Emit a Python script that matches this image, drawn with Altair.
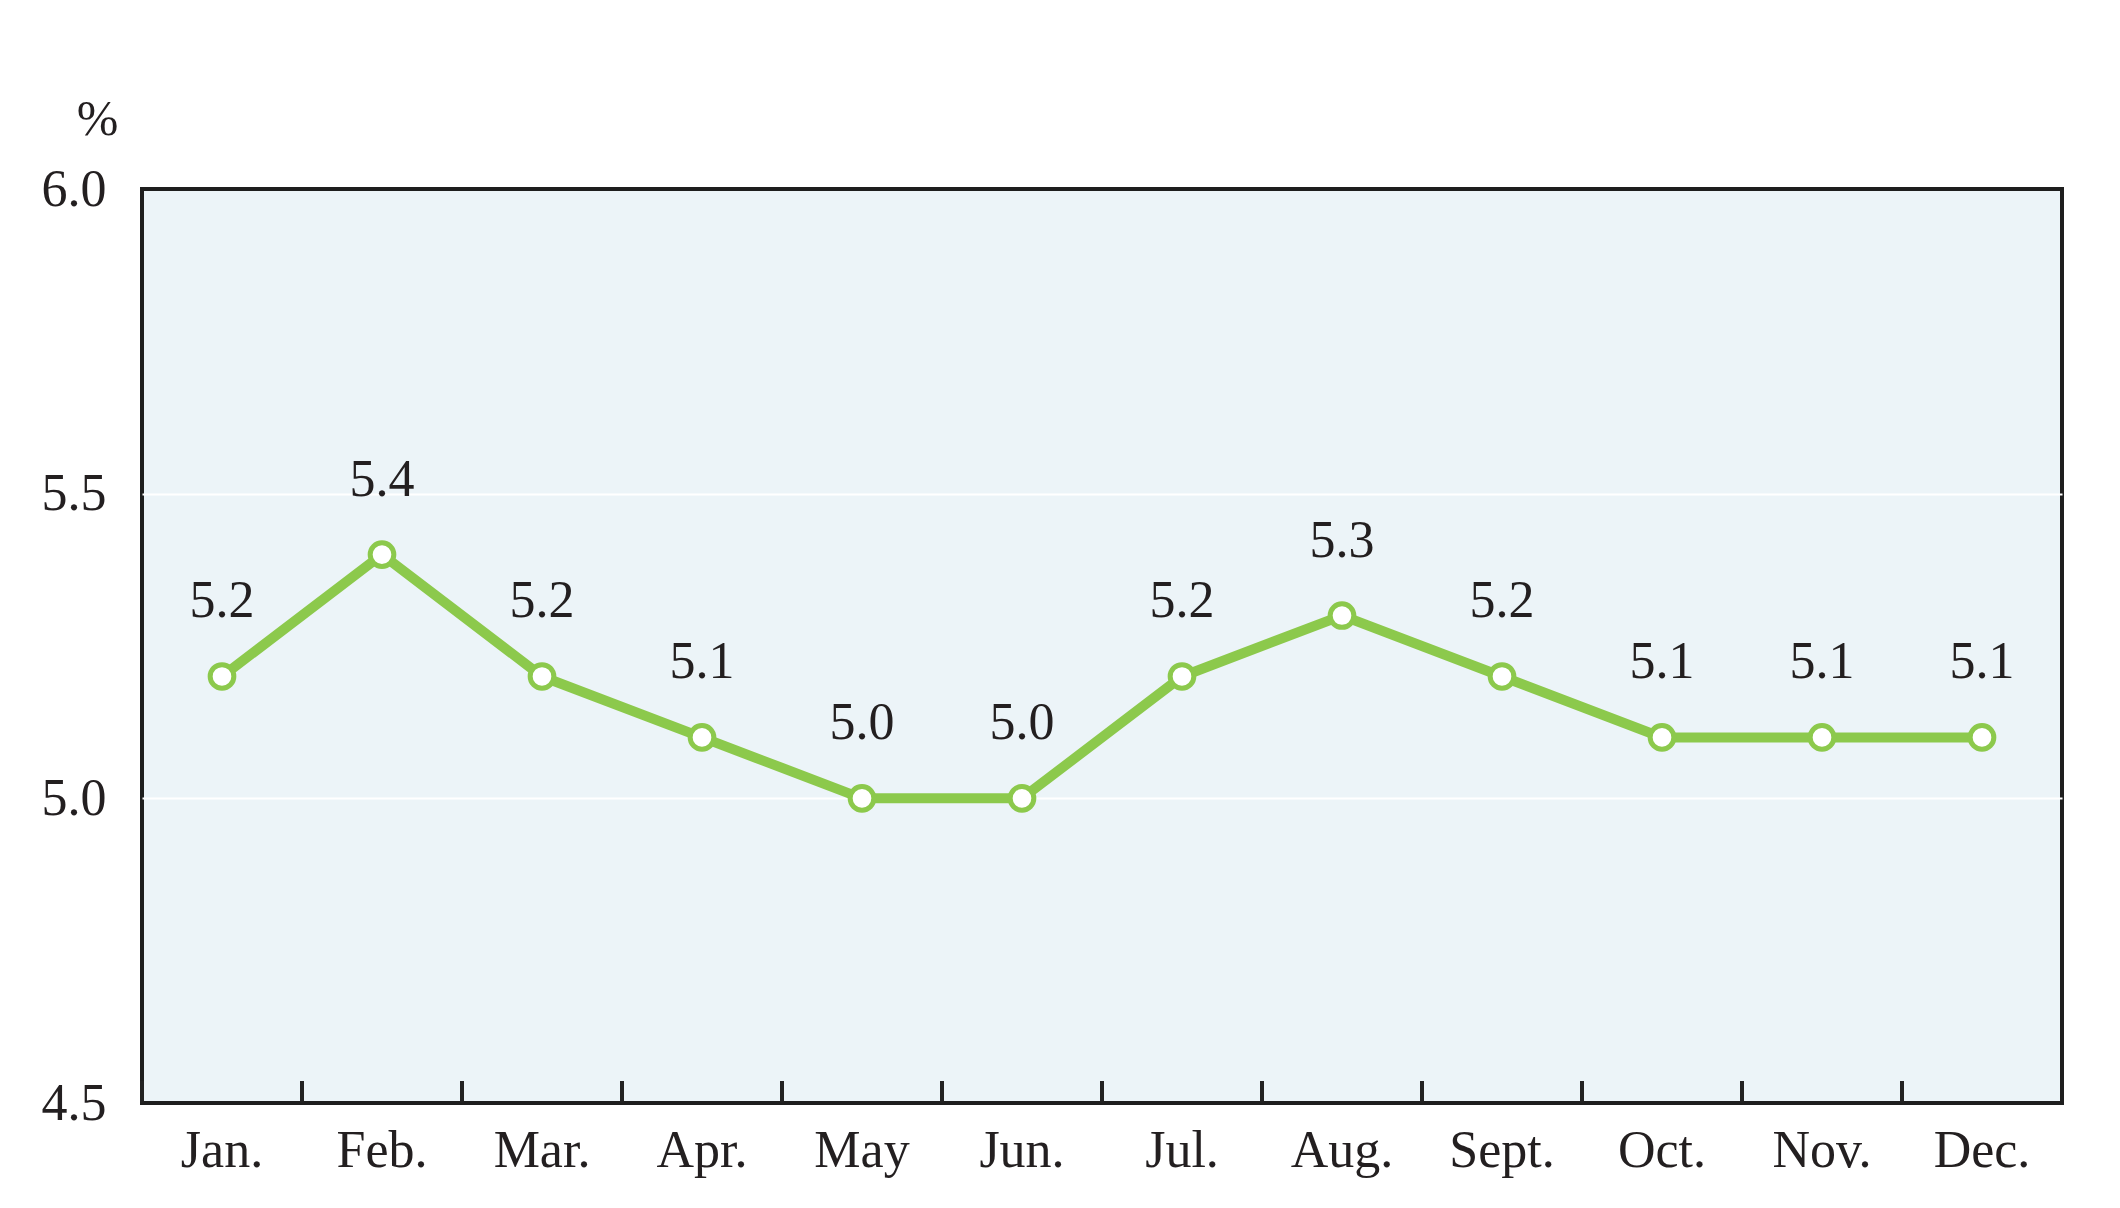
import altair as alt
import pandas as pd

months = ["Jan.", "Feb.", "Mar.", "Apr.", "May", "Jun.", "Jul.", "Aug.", "Sept.", "Oct.", "Nov.", "Dec."]
rates = [5.2, 5.4, 5.2, 5.1, 5.0, 5.0, 5.2, 5.3, 5.2, 5.1, 5.1, 5.1]
y_ticks = [4.5, 5.0, 5.5, 6.0]

df = pd.DataFrame({"month": months, "rate": rates})
df["label"] = [f"{v:.1f}" for v in rates]

FONT = "Liberation Serif"
GREEN = "#8CC94C"
TEXT = "#231F20"
W, H = 1920, 914

xscale = alt.Scale(type="band", domain=months, paddingInner=0, paddingOuter=0)
yscale = alt.Scale(domain=[4.5, 6.0], nice=False, zero=False)

x_enc = alt.X(
    "month:N", sort=months, scale=xscale,
    axis=alt.Axis(title=None, labelAngle=0, labelFont=FONT, labelFontSize=52,
                  labelColor=TEXT, tickSize=0, ticks=False, domain=False,
                  labelPadding=22, labelBaseline="top", labelAlign="center",
                  bandPosition=0.5, grid=False),
)
y_enc = alt.Y(
    "rate:Q", scale=yscale,
    axis=alt.Axis(title="%", titleAngle=0, titleFont=FONT, titleFontSize=50,
                  titleFontWeight="normal", titleColor=TEXT, titleX=-45, titleY=-70,
                  titleAlign="center", titleBaseline="middle",
                  values=y_ticks, format=".1f", labelFont=FONT, labelFontSize=52,
                  labelColor=TEXT, tickSize=0, ticks=False, domain=False,
                  labelPadding=36, grid=True, gridColor="#FFFFFF", gridWidth=2,
                  gridOpacity=alt.condition("datum.value > 4.6 && datum.value < 5.9",
                                            alt.value(1), alt.value(0))),
)

base = alt.Chart(df)

line = base.mark_line(color=GREEN, strokeWidth=10).encode(x=x_enc, y=y_enc)
points = base.mark_point(shape="circle", filled=True, fill="#FFFFFF", stroke=GREEN,
                         strokeWidth=5, size=560, opacity=1).encode(
    x=alt.X("month:N", sort=months, scale=xscale), y=alt.Y("rate:Q", scale=yscale))
labels = base.mark_text(font=FONT, fontSize=52, color=TEXT, align="center",
                        baseline="alphabetic", dy=-59).encode(
    x=alt.X("month:N", sort=months, scale=xscale), y=alt.Y("rate:Q", scale=yscale),
    text="label:N")
ticks = base.mark_rule(color="#222222", strokeWidth=4).encode(
    x=alt.X("month:N", sort=months, scale=xscale, bandPosition=0),
    y=alt.value(H - 22), y2=alt.value(H))

chart = alt.layer(ticks, line, points, labels).properties(
    width=W, height=H,
    background="#FFFFFF",
    autosize=alt.AutoSizeParams(type="none"),
    padding={"left": 134, "top": 181, "right": 50, "bottom": 90},
).configure_view(fill="#ECF4F8", stroke="#1E1E1E", strokeWidth=4)

chart.save("out.html", embed_options={"renderer": "svg", "actions": False})
